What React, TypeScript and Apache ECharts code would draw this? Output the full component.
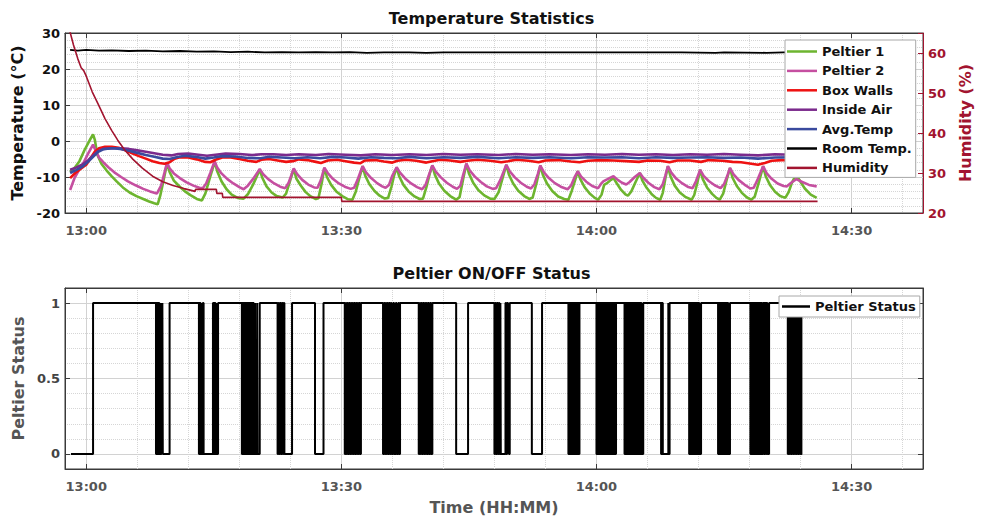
import React, { useEffect, useRef } from 'react';
import * as echarts from 'echarts';

// ---------- axis ranges / ticks (minutes after 13:00) ----------
const X_MIN = -2.5;
const X_MAX = 98.4;
const X_MAJOR = [0, 30, 60, 90];
const X_MINOR = [6, 12, 18, 24, 36, 42, 48, 54, 66, 72, 78, 84, 96];
const S_MAJOR = [0, 0.5, 1];
const S_MINOR = [0.1, 0.2, 0.3, 0.4, 0.6, 0.7, 0.8, 0.9];

// ---------- series data: [minutes after 13:00, value] ----------
const peltier1 = [
  [-1.9, -8.6], [-1.4, -7.6], [-0.8, -5.6], [-0.2, -2.5], [0.4, 0.2], [0.8, 1.8], [1.0, 0.4], [1.3, -3.8], [1.8, -6.4], [2.4, -8.2], [3.0, -9.8], [3.6, -11.3], [4.3, -12.9], [5.1, -14.3], [5.9, -15.3], [6.7, -16.1], [7.4, -16.8], [8.0, -17.3], [8.4, -17.6], [8.7, -15.2], [9.1, -10.8], [9.5, -6.2],
  [9.8, -8.6], [10.3, -11.0], [11.0, -12.7], [11.6, -14.0], [12.3, -15.1], [13.0, -16.1], [13.6, -16.5], [14.0, -14.6], [14.5, -10.5], [15.1, -5.8],
  [15.4, -8.4], [15.9, -11.2], [16.5, -13.4], [17.1, -14.9], [17.8, -15.8], [18.5, -16.0], [19.0, -14.8], [19.6, -12.2], [20.0, -10.1], [20.4, -8.0],
  [20.7, -10.2], [21.2, -12.6], [21.8, -14.3], [22.4, -15.3], [23.1, -15.7], [23.5, -14.6], [24.0, -10.8], [24.4, -7.8],
  [24.7, -10.4], [25.2, -12.3], [25.8, -14.2], [26.4, -15.4], [27.0, -16.1], [27.3, -15.9], [27.7, -11.6], [28.0, -7.5],
  [28.3, -10.0], [28.8, -12.2], [29.4, -14.0], [30.1, -15.3], [30.8, -16.2], [31.3, -16.3], [31.7, -14.0], [32.1, -10.4], [32.5, -7.0],
  [32.8, -9.6], [33.3, -12.0], [33.9, -13.9], [34.5, -15.2], [35.1, -16.0], [35.5, -15.8], [35.9, -12.6], [36.2, -9.6], [36.5, -7.3],
  [36.8, -9.8], [37.3, -12.2], [37.9, -14.0], [38.6, -15.4], [39.2, -16.1], [39.6, -16.0], [40.0, -12.8], [40.4, -9.0], [40.7, -6.8],
  [41.0, -9.4], [41.5, -11.9], [42.1, -13.8], [42.8, -15.3], [43.5, -16.3], [43.9, -15.6], [44.3, -10.8], [44.7, -6.3],
  [45.0, -9.0], [45.5, -11.6], [46.1, -13.6], [46.8, -15.1], [47.5, -16.0], [48.0, -16.1], [48.5, -14.2], [49.0, -10.0], [49.4, -6.6],
  [49.7, -9.3], [50.2, -11.8], [50.8, -13.8], [51.5, -15.3], [52.1, -16.1], [52.5, -15.7], [53.0, -11.2], [53.4, -6.8],
  [53.7, -9.4], [54.2, -11.9], [54.8, -13.9], [55.5, -15.4], [56.2, -16.1], [56.7, -16.3], [57.1, -13.8], [57.5, -10.8], [57.8, -8.4],
  [58.1, -10.6], [58.6, -12.8], [59.2, -14.6], [59.8, -15.8], [60.2, -16.3], [60.6, -14.9], [60.9, -12.2], [61.3, -11.6], [61.7, -10.8], [62.0, -10.3], [62.4, -11.8], [62.9, -13.6], [63.4, -14.8], [63.7, -15.2], [64.1, -14.0], [64.6, -11.4], [65.1, -8.9],
  [65.4, -11.0], [65.9, -13.0], [66.5, -14.8], [67.0, -15.8], [67.5, -16.3], [67.8, -14.4], [68.1, -10.4], [68.4, -7.0],
  [68.7, -9.8], [69.2, -12.4], [69.8, -14.3], [70.5, -15.6], [71.2, -16.3], [71.5, -15.0], [71.9, -11.2], [72.2, -8.0],
  [72.5, -10.6], [73.0, -12.9], [73.6, -14.7], [74.1, -15.8], [74.5, -16.3], [74.9, -14.6], [75.3, -10.9], [75.7, -7.5],
  [76.0, -10.2], [76.5, -12.5], [77.1, -14.4], [77.7, -15.7], [78.2, -16.3], [78.6, -15.5], [79.1, -11.4], [79.6, -7.0],
  [79.9, -9.8], [80.4, -12.2], [81.0, -14.1], [81.6, -15.3], [82.2, -15.8], [82.6, -14.2], [83.0, -11.5], [83.5, -9.3],
  [83.9, -11.0], [84.5, -13.2], [85.2, -14.9], [85.9, -15.8],
];

const peltier2 = [
  [-1.9, -13.6], [-1.4, -10.4], [-0.9, -8.2], [-0.4, -6.4], [0.2, -3.6], [0.8, -1.0], [1.1, -2.6], [1.5, -4.6], [2.0, -5.9], [2.6, -7.3], [3.3, -8.7], [4.1, -10.0], [4.9, -11.2], [5.8, -12.3], [6.7, -13.3], [7.5, -14.0], [8.3, -14.6], [8.8, -12.4], [9.2, -8.8], [9.5, -6.0],
  [9.8, -7.6], [10.3, -9.0], [11.0, -10.3], [11.8, -11.5], [12.6, -12.4], [13.3, -13.0], [13.7, -13.1], [14.1, -11.8], [14.6, -8.8], [15.1, -5.6],
  [15.4, -7.4], [15.9, -9.0], [16.6, -10.6], [17.3, -11.8], [18.0, -12.8], [18.5, -13.4], [19.0, -12.4], [19.6, -10.6], [20.0, -9.2], [20.4, -7.8],
  [20.8, -9.2], [21.4, -10.6], [22.1, -11.8], [22.8, -12.7], [23.4, -13.1], [23.8, -11.6], [24.1, -9.6], [24.4, -7.6],
  [24.8, -9.2], [25.4, -10.8], [26.1, -12.1], [26.8, -12.9], [27.2, -13.0], [27.6, -10.8], [28.0, -7.4],
  [28.4, -8.9], [29.0, -10.5], [29.7, -11.8], [30.4, -12.7], [31.1, -13.3], [31.5, -13.0], [31.9, -10.8], [32.2, -8.9], [32.5, -7.0],
  [32.9, -8.7], [33.5, -10.3], [34.2, -11.7], [34.8, -12.6], [35.2, -13.0], [35.6, -12.2], [36.0, -9.6], [36.5, -7.3],
  [36.9, -8.8], [37.5, -10.4], [38.2, -11.8], [38.9, -12.8], [39.5, -13.4], [39.9, -12.2], [40.3, -9.4], [40.7, -6.8],
  [41.1, -8.5], [41.7, -10.1], [42.4, -11.6], [43.1, -12.7], [43.6, -13.3], [44.0, -12.4], [44.3, -9.6], [44.7, -6.3],
  [45.1, -8.2], [45.7, -9.9], [46.4, -11.4], [47.1, -12.6], [47.8, -13.3], [48.2, -13.1], [48.7, -10.8], [49.1, -8.4], [49.4, -6.6],
  [49.8, -8.4], [50.4, -10.1], [51.1, -11.6], [51.8, -12.7], [52.3, -13.2], [52.7, -12.0], [53.1, -9.2], [53.4, -6.8],
  [53.8, -8.6], [54.4, -10.3], [55.1, -11.7], [55.8, -12.7], [56.6, -13.4], [57.0, -12.4], [57.4, -10.2], [57.8, -8.4],
  [58.2, -9.9], [58.8, -11.3], [59.5, -12.5], [60.2, -13.1], [60.5, -12.0], [60.8, -11.2], [61.3, -10.6], [61.7, -10.1], [62.0, -9.8], [62.5, -10.8], [63.0, -11.6], [63.5, -12.1], [63.9, -11.4], [64.5, -10.0], [65.1, -8.9],
  [65.5, -10.2], [66.1, -11.6], [66.8, -12.8], [67.4, -13.4], [67.8, -12.0], [68.1, -9.6], [68.4, -7.0],
  [68.8, -8.8], [69.4, -10.5], [70.1, -11.8], [70.8, -12.8], [71.3, -13.1], [71.7, -11.2], [72.2, -8.0],
  [72.6, -9.7], [73.2, -11.1], [73.9, -12.3], [74.6, -13.1], [75.0, -12.0], [75.4, -9.6], [75.7, -7.5],
  [76.1, -9.2], [76.7, -10.8], [77.4, -12.1], [78.1, -13.2], [78.5, -13.0], [79.0, -10.4], [79.6, -7.0],
  [80.0, -8.9], [80.6, -10.5], [81.3, -11.8], [82.0, -12.5], [82.4, -12.6], [82.9, -11.6], [83.5, -10.6], [84.2, -11.4], [85.0, -12.2], [85.9, -12.6],
];

const boxWalls = [
  [-1.9, -10.3], [-1.3, -8.9], [-0.6, -7.6], [0, -6.6], [0.5, -4.8], [1.0, -3.0], [1.5, -2.0], [2.2, -1.6], [3.0, -1.6], [3.8, -1.9], [4.6, -2.6], [5.4, -3.4], [6.2, -4.2], [7.0, -4.9], [7.8, -5.6], [8.6, -6.1], [9.2, -6.3], [9.8, -5.9], [10.4, -4.9], [11.0, -4.5], [12.0, -4.6], [13.0, -5.1], [14.0, -5.8], [14.6, -5.9], [15.2, -5.2], [16.0, -4.6], [17.0, -4.6], [18.0, -5.0], [19.0, -5.5], [20.0, -5.8], [20.6, -5.2], [21.5, -5.0], [22.5, -5.4], [23.5, -5.8], [24.3, -5.6], [25.0, -5.1], [26.0, -5.3], [27.0, -5.8], [27.6, -6.1], [28.4, -5.4], [29.5, -5.2], [30.5, -5.6], [31.5, -6.0], [32.2, -6.2], [32.8, -5.4], [34.0, -5.3], [35.0, -5.7], [36.0, -6.0], [36.6, -5.5], [37.6, -5.2], [38.8, -5.5], [40.0, -6.0], [40.7, -5.6], [41.6, -5.2], [42.8, -5.4], [44.0, -5.8], [44.8, -5.5], [46.0, -5.2], [47.5, -5.5], [48.8, -5.9], [49.6, -5.6], [50.6, -5.2], [52.0, -5.5], [53.2, -5.9], [54.0, -5.4], [55.5, -5.3], [57.0, -5.7], [58.0, -5.9], [59.0, -5.5], [60.5, -5.3], [62.0, -5.4], [63.5, -5.6], [65.0, -5.8], [66.0, -5.4], [67.5, -5.5], [68.6, -5.9], [69.5, -5.4], [71.0, -5.4], [72.3, -5.8], [73.2, -5.3], [74.8, -5.5], [76.0, -5.8], [77.0, -5.9], [78.2, -6.3], [79.0, -6.6], [79.8, -6.1], [80.6, -5.5], [81.8, -5.3], [83.0, -5.6], [84.0, -5.8], [85.0, -5.4], [85.9, -5.3],
];

const insideAir = [
  [-1.9, -8.0], [-1.2, -7.4], [-0.5, -6.6], [0.2, -5.4], [0.8, -4.0], [1.4, -2.8], [2.0, -2.2], [3.0, -2.0], [4.0, -2.0], [5.0, -2.2], [6.0, -2.6], [7.0, -3.0], [8.0, -3.4], [9.0, -3.8], [10.0, -4.0], [10.8, -3.6], [12.0, -3.5], [13.2, -3.8], [14.2, -4.1], [15.2, -3.8], [16.4, -3.5], [18.0, -3.6], [19.5, -3.9], [20.6, -3.7], [22.0, -3.7], [23.5, -3.9], [25.0, -3.7], [27.0, -3.9], [28.5, -3.6], [30.5, -3.8], [32.3, -4.0], [34.0, -3.7], [36.0, -3.9], [38.0, -3.7], [40.0, -3.9], [42.0, -3.6], [44.0, -3.8], [46.0, -3.7], [48.5, -3.9], [50.5, -3.6], [52.5, -3.8], [54.5, -3.7], [57.0, -3.9], [59.0, -3.7], [61.0, -3.8], [63.0, -3.6], [65.0, -3.8], [67.0, -3.7], [69.0, -3.9], [71.0, -3.7], [73.0, -3.8], [75.0, -3.6], [77.0, -3.8], [79.0, -4.0], [81.0, -3.7], [83.0, -3.8], [85.0, -3.7], [85.9, -3.8],
];

const avgTemp = [
  [-1.9, -8.9], [-1.2, -8.1], [-0.5, -7.2], [0.2, -5.8], [0.8, -4.4], [1.4, -3.0], [2.0, -2.3], [3.0, -2.0], [4.0, -2.2], [5.0, -2.7], [6.0, -3.3], [7.0, -3.9], [8.0, -4.4], [9.0, -4.9], [9.8, -5.0], [10.6, -4.5], [11.6, -4.1], [12.8, -4.4], [14.0, -4.9], [15.0, -4.6], [16.0, -4.2], [17.5, -4.3], [19.0, -4.7], [20.5, -4.8], [21.5, -4.4], [23.0, -4.6], [24.5, -4.8], [26.0, -4.5], [27.5, -4.8], [29.0, -4.4], [30.5, -4.6], [32.0, -4.9], [33.5, -4.5], [35.0, -4.7], [36.5, -4.8], [38.0, -4.4], [40.0, -4.8], [42.0, -4.5], [44.0, -4.7], [46.0, -4.4], [48.5, -4.8], [50.5, -4.5], [52.5, -4.7], [54.5, -4.5], [57.0, -4.8], [59.0, -4.5], [61.0, -4.6], [63.0, -4.5], [65.0, -4.8], [67.0, -4.5], [69.0, -4.7], [71.0, -4.6], [73.0, -4.5], [75.0, -4.7], [77.0, -4.6], [79.0, -4.9], [81.0, -4.6], [83.0, -4.5], [85.0, -4.7], [85.9, -4.6],
];

const roomTemp = [
  [-1.9, 25.3], [-1.0, 25.1], [0, 25.3], [1.5, 25.1], [3.0, 25.2], [5.0, 25.0], [7.0, 25.1], [9.0, 24.9], [11.0, 25.0], [13.0, 24.8], [15.0, 24.9], [17.0, 24.7], [19.0, 24.8], [21.0, 24.6], [23.0, 24.7], [25.0, 24.6], [27.0, 24.7], [29.0, 24.6], [31.0, 24.7], [33.0, 24.5], [35.0, 24.6], [38.0, 24.6], [40.0, 24.5], [42.0, 24.6], [46.0, 24.6], [50.0, 24.6], [55.0, 24.6], [60.0, 24.6], [65.0, 24.6], [70.0, 24.6], [74.0, 24.5], [75.0, 24.6], [80.0, 24.5], [82.0, 24.6], [86.0, 24.6],
];

const humidity = [
  [-2.0, 66], [-1.5, 62], [-1.0, 58.6], [-0.6, 56.3], [-0.3, 55.6], [0, 54.2], [0.7, 50.3], [1.4, 47.2], [2.2, 43.6], [3.0, 40.6], [3.7, 38.2], [4.5, 35.8], [5.5, 33.4], [6.6, 31.2], [7.8, 29.2], [9.0, 27.8], [10.2, 26.9], [11.5, 26.1], [12.8, 25.4], [12.85, 25.9], [15.3, 25.9], [15.35, 24.9], [16.0, 24.9], [16.05, 23.9], [30.0, 23.9], [30.05, 22.9], [86.0, 22.9],
];

// Peltier status: state is 0 outside these ON intervals [start, end]
const STATUS_START = -1.8;
const STATUS_END = 84.2;
const peltierOnIntervals = [
  [0.8, 8.2],
  [8.3, 8.4], [8.5, 8.6], [8.7, 8.75], [8.85, 8.9], [8.95, 9.0],
  [9.8, 13.25],
  [13.35, 13.45], [13.55, 13.6], [13.7, 13.8],
  [14.9, 15.0], [15.1, 15.2], [15.3, 15.35],
  [15.5, 18.3],
  [18.4, 18.5], [18.6, 18.7], [18.8, 18.9], [19.0, 19.1], [19.2, 19.3], [19.4, 19.5], [19.6, 19.7], [19.85, 19.9], [20.1, 20.15],
  [20.4, 22.5],
  [22.6, 22.7], [22.8, 22.9], [23.0, 23.1], [23.2, 23.3],
  [24.2, 26.9],
  [27.9, 30.4],
  [30.5, 30.6], [30.7, 30.8], [30.9, 31.0], [31.1, 31.2], [31.3, 31.4], [31.5, 31.6], [31.7, 31.8], [31.9, 32.0], [32.1, 32.2],
  [32.3, 34.9],
  [35.0, 35.1], [35.2, 35.3], [35.4, 35.5], [35.6, 35.7], [35.8, 35.9], [36.1, 36.2], [36.4, 36.5], [36.7, 36.8],
  [36.9, 39.1],
  [39.2, 39.3], [39.4, 39.5], [39.6, 39.7], [39.8, 39.9], [40.0, 40.1], [40.2, 40.3], [40.45, 40.55],
  [40.7, 43.5],
  [44.9, 48.0],
  [48.1, 48.2], [48.3, 48.4], [48.5, 48.6], [48.7, 48.75], [49.3, 49.4], [49.5, 49.6], [49.65, 49.7],
  [49.8, 52.4],
  [53.6, 56.7],
  [56.8, 56.9], [57.0, 57.1], [57.2, 57.3], [57.4, 57.5], [57.6, 57.7], [57.8, 57.9],
  [58.0, 60.0],
  [60.1, 60.2], [60.3, 60.4], [60.5, 60.6], [60.7, 60.8], [60.9, 61.0], [61.1, 61.2], [61.3, 61.4], [61.5, 61.6], [61.7, 61.8], [61.9, 62.0], [62.1, 62.2],
  [62.3, 63.3],
  [63.4, 63.5], [63.6, 63.7], [63.8, 63.9], [64.0, 64.1], [64.2, 64.3], [64.4, 64.5], [64.6, 64.7], [64.8, 64.9], [65.0, 65.1], [65.2, 65.3],
  [65.5, 67.6],
  [67.7, 67.8], [68.45, 68.5],
  [68.6, 70.9],
  [71.0, 71.1], [71.2, 71.3], [71.4, 71.5], [71.6, 71.7], [71.8, 71.9], [72.0, 72.1],
  [72.3, 74.3],
  [74.4, 74.5], [74.6, 74.7], [74.8, 74.9], [75.0, 75.1], [75.2, 75.3], [75.4, 75.5],
  [75.7, 78.1],
  [78.2, 78.3], [78.4, 78.5], [78.6, 78.7], [78.8, 78.9], [79.0, 79.1], [79.2, 79.3], [79.4, 79.5], [79.6, 79.7], [79.8, 79.9], [80.0, 80.1],
  [80.3, 82.5],
  [82.6, 82.7], [82.8, 82.9], [83.0, 83.1], [83.2, 83.3], [83.4, 83.5], [83.6, 83.7], [83.8, 83.9], [84.0, 84.1],
];

const legendNames = ['Peltier 1', 'Peltier 2', 'Box Walls', 'Inside Air', 'Avg.Temp', 'Room Temp.', 'Humidity'];

// ---------- styling ----------
const FONT = 'DejaVu Sans';
const C_GREEN = '#6DB52F';
const C_PINK = '#C54FA0';
const C_RED = '#EE1111';
const C_PURPLE = '#7B2A8C';
const C_BLUE = '#3A4A9E';
const C_BLACK = '#000000';
const C_HUM = '#A2142F';
const C_AXIS = '#3a3a3a';
const C_GRID = '#d2d2d2';
const C_MINOR = '#d6d6d6';

function fmtTime(v: number) {
  const h = 13 + Math.floor(v / 60);
  const m = Math.round(v - Math.floor(v / 60) * 60);
  return `${h}:${String(m).padStart(2, '0')}`;
}

function buildStatus() {
  const out: number[][] = [[STATUS_START, 0]];
  for (const [a, b] of peltierOnIntervals) {
    out.push([a, 0], [a, 1], [b, 1], [b, 0]);
  }
  out.push([STATUS_END, 0]);
  return out;
}

function xAxesFor(gridIndex: number, withName: boolean) {
  const main: any = {
    type: 'value', gridIndex, min: X_MIN, max: X_MAX, position: 'bottom',
    axisLine: { show: true, onZero: false, lineStyle: { color: C_AXIS } },
    axisTick: { show: true, inside: true, length: 5, customValues: X_MAJOR, lineStyle: { color: C_AXIS } },
    axisLabel: { customValues: X_MAJOR, formatter: fmtTime, color: '#555', fontWeight: 'bold', fontSize: 13, fontFamily: FONT, margin: 11 },
    splitLine: { show: true, lineStyle: { color: C_GRID, width: 1 } },
  };
  if (withName) {
    main.name = 'Time (HH:MM)';
    main.nameLocation = 'middle';
    main.nameGap = 30;
    main.nameTextStyle = { fontWeight: 'bold', fontSize: 16, color: '#555', fontFamily: FONT };
  }
  const minor = {
    type: 'value', gridIndex, min: X_MIN, max: X_MAX, position: 'bottom',
    axisLine: { show: false, onZero: false },
    axisTick: { show: false, customValues: X_MINOR },
    axisLabel: { show: false, customValues: X_MINOR },
    splitLine: { show: true, lineStyle: { color: C_MINOR, type: 'dotted', width: 1 } },
  };
  const top = {
    type: 'value', gridIndex, min: X_MIN, max: X_MAX, position: 'top',
    axisLine: { show: true, onZero: false, lineStyle: { color: C_AXIS } },
    axisTick: { show: true, inside: true, length: 5, customValues: X_MAJOR, lineStyle: { color: C_AXIS } },
    axisLabel: { show: false },
    splitLine: { show: false },
  };
  return [main, minor, top];
}

function line(name: string, data: number[][], color: string, width: number, xi: number, yi: number) {
  return {
    type: 'line', name, data, xAxisIndex: xi, yAxisIndex: yi,
    symbol: 'none', showSymbol: false, smooth: false,
    lineStyle: { color, width }, itemStyle: { color },
    emphasis: { disabled: true }, silent: true,
  };
}

const legendCommon = {
  orient: 'vertical', icon: 'rect', itemHeight: 2.5, selectedMode: false,
  backgroundColor: '#fff', borderColor: '#a8a8a8', borderWidth: 1,
  textStyle: { fontFamily: FONT, fontWeight: 'bold', fontSize: 13, color: '#111', lineHeight: 15 },
};

export default function App() {
  const ref = useRef<HTMLDivElement>(null);
  useEffect(() => {
    document.body.style.margin = '0';
    const chart = echarts.init(ref.current!, null, { renderer: 'svg', width: 983, height: 519 });
    const option: any = {
      animation: false,
      backgroundColor: '#ffffff',
      textStyle: { fontFamily: FONT },
      title: [
        { text: 'Temperature Statistics', left: 'center', top: 10, padding: 0, textStyle: { fontFamily: FONT, fontWeight: 'bold', fontSize: 16, color: '#111' } },
        { text: 'Peltier ON/OFF Status', left: 'center', top: 265, padding: 0, textStyle: { fontFamily: FONT, fontWeight: 'bold', fontSize: 16, color: '#111' } },
      ],
      grid: [
        { left: 65, top: 33, width: 858, height: 180, show: true, borderColor: C_AXIS, borderWidth: 1, backgroundColor: '#fff' },
        { left: 65, top: 288, width: 858, height: 181, show: true, borderColor: C_AXIS, borderWidth: 1, backgroundColor: '#fff' },
      ],
      legend: [
        { ...legendCommon, data: legendNames, left: 785, top: 40, padding: [4, 4, 2, 2], itemGap: 4.4, itemWidth: 30 },
        { ...legendCommon, data: ['Peltier Status'], left: 779, top: 296, padding: [3, 4, 3, 3], itemWidth: 28 },
      ],
      xAxis: [...xAxesFor(0, false), ...xAxesFor(1, true)],
      yAxis: [
        {
          type: 'value', gridIndex: 0, position: 'left', min: -20, max: 30, interval: 10,
          axisLine: { show: true, onZero: false, lineStyle: { color: C_AXIS } },
          axisTick: { show: true, inside: true, length: 5, lineStyle: { color: C_AXIS } },
          axisLabel: { color: '#111', fontWeight: 'bold', fontSize: 13, fontFamily: FONT, margin: 5 },
          splitLine: { show: true, lineStyle: { color: C_GRID } },
          minorTick: { show: false, splitNumber: 5 },
          minorSplitLine: { show: true, lineStyle: { color: C_MINOR, type: 'dotted' } },
          name: 'Temperature (°C)', nameLocation: 'middle', nameGap: 30, nameRotate: 90,
          nameTextStyle: { fontWeight: 'bold', fontSize: 16, color: '#111', fontFamily: FONT },
        },
        {
          type: 'value', gridIndex: 0, position: 'right', min: 20, max: 65, interval: 10,
          axisLine: { show: true, onZero: false, lineStyle: { color: C_HUM } },
          axisTick: { show: true, inside: true, length: 5, lineStyle: { color: C_HUM } },
          axisLabel: { color: C_HUM, fontWeight: 'bold', fontSize: 13, fontFamily: FONT, margin: 5, formatter: (v: number) => (v > 62 ? '' : String(v)) },
          splitLine: { show: false },
          name: 'Humidity (%)', nameLocation: 'middle', nameGap: 34, nameRotate: 90,
          nameTextStyle: { fontWeight: 'bold', fontSize: 16, color: C_HUM, fontFamily: FONT },
        },
        {
          type: 'value', gridIndex: 1, position: 'left', min: -0.1, max: 1.1,
          axisLine: { show: true, onZero: false, lineStyle: { color: C_AXIS } },
          axisTick: { show: true, inside: true, length: 5, customValues: S_MAJOR, lineStyle: { color: C_AXIS } },
          axisLabel: { customValues: S_MAJOR, color: '#444', fontWeight: 'bold', fontSize: 13, fontFamily: FONT, margin: 5, formatter: (v: number) => String(v) },
          splitLine: { show: true, lineStyle: { color: C_GRID } },
          name: 'Peltier Status', nameLocation: 'middle', nameGap: 30, nameRotate: 90,
          nameTextStyle: { fontWeight: 'bold', fontSize: 16, color: '#555', fontFamily: FONT },
        },
        {
          type: 'value', gridIndex: 1, position: 'left', min: -0.1, max: 1.1,
          axisLine: { show: false, onZero: false },
          axisTick: { show: false, customValues: S_MINOR },
          axisLabel: { show: false, customValues: S_MINOR },
          splitLine: { show: true, lineStyle: { color: C_MINOR, type: 'dotted' } },
        },
        {
          type: 'value', gridIndex: 1, position: 'right', min: -0.1, max: 1.1,
          axisLine: { show: true, onZero: false, lineStyle: { color: C_AXIS } },
          axisTick: { show: true, inside: true, length: 5, customValues: S_MAJOR, lineStyle: { color: C_AXIS } },
          axisLabel: { show: false },
          splitLine: { show: false },
        },
      ],
      series: [
        line('Peltier 1', peltier1, C_GREEN, 2.6, 0, 0),
        line('Peltier 2', peltier2, C_PINK, 2.6, 0, 0),
        line('Box Walls', boxWalls, C_RED, 2.6, 0, 0),
        line('Inside Air', insideAir, C_PURPLE, 2.6, 0, 0),
        line('Avg.Temp', avgTemp, C_BLUE, 2.6, 0, 0),
        line('Room Temp.', roomTemp, C_BLACK, 1.8, 0, 0),
        line('Humidity', humidity, C_HUM, 1.6, 0, 1),
        line('Peltier Status', buildStatus(), C_BLACK, 2, 3, 2),
      ],
    };
    chart.setOption(option);
    return () => chart.dispose();
  }, []);
  return <div ref={ref} style={{ width: 983, height: 519 }} />;
}
